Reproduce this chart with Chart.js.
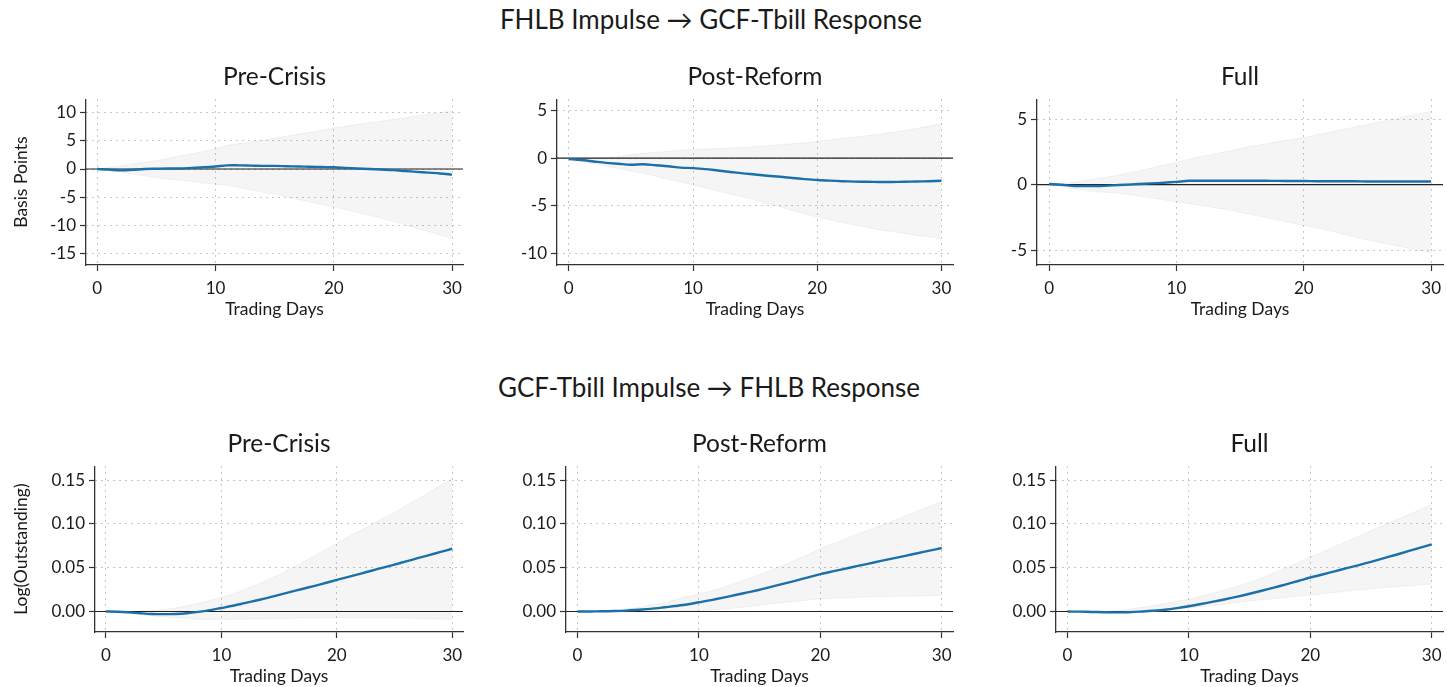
<!DOCTYPE html>
<html lang="en">
<head>
<meta charset="UTF-8">
<title>Impulse Responses</title>
<script src="https://cdn.jsdelivr.net/npm/chart.js"></script>
<style>
  body { margin: 0; background: #fff; width: 1447px; height: 687px; position: relative; overflow: hidden; font-family: Lato, sans-serif; color: #1a1a1a; }
  canvas { position: absolute; }
  .t { position: absolute; transform: translateX(-50%); white-space: nowrap; line-height: 1; }
  .sup { font-size: 26px; }
  .sub { font-size: 24.5px; }
</style>
</head>
<body>
<div class="t sup" style="left:711px; top:6px;">FHLB Impulse &rarr; GCF-Tbill Response</div>
<div class="t sup" style="left:709px; top:374px;">GCF-Tbill Impulse &rarr; FHLB Response</div>

<script>
// horizon (trading days) and ticks
const days = [0,1,2,3,4,5,6,7,8,9,10,11,12,13,14,15,16,17,18,19,20,21,22,23,24,25,26,27,28,29,30];
const xTicks = [0, 10, 20, 30];
const preTicksTop = [-15, -10, -5, 0, 5, 10];
const postTicksTop = [-10, -5, 0, 5];
const fullTicksTop = [-5, 0, 5];
const ticksBottom = [0, 0.05, 0.10, 0.15];

// FHLB impulse -> GCF-Tbill response (basis points)
const preTopIrf = [0,-0.1,-0.25,-0.15,0,0.05,0.1,0.1,0.2,0.3,0.45,0.65,0.65,0.6,0.55,0.55,0.5,0.45,0.4,0.35,0.3,0.2,0.1,0,-0.1,-0.2,-0.35,-0.5,-0.65,-0.8,-1.0];
const preTopHi  = [0,0.3,0.6,0.9,1.2,1.5,1.9,2.3,2.7,3.1,3.6,4.2,4.5,4.8,5.1,5.5,5.8,6.2,6.5,6.9,7.3,7.6,7.9,8.2,8.5,8.8,9.1,9.4,9.7,10.0,10.3];
const preTopLo  = [0,-0.3,-0.5,-0.9,-1.2,-1.5,-1.8,-2.0,-2.2,-2.5,-2.7,-2.9,-3.3,-3.7,-4.1,-4.5,-4.9,-5.4,-5.8,-6.3,-6.7,-7.2,-7.7,-8.2,-8.7,-9.3,-9.9,-10.5,-11.1,-11.7,-12.3];

const postTopIrf = [-0.1,-0.2,-0.35,-0.5,-0.6,-0.7,-0.65,-0.75,-0.85,-1.0,-1.05,-1.15,-1.3,-1.45,-1.6,-1.72,-1.85,-1.95,-2.08,-2.2,-2.3,-2.36,-2.42,-2.46,-2.48,-2.5,-2.5,-2.48,-2.45,-2.42,-2.38];
const postTopHi  = [-0.1,-0.05,0,0,0.15,0.35,0.5,0.6,0.7,0.8,0.9,0.95,1.0,1.05,1.1,1.2,1.3,1.4,1.5,1.6,1.75,1.9,2.05,2.2,2.35,2.5,2.7,2.9,3.1,3.35,3.6];
const postTopLo  = [-0.1,-0.35,-0.6,-0.85,-1.1,-1.35,-1.6,-1.9,-2.2,-2.5,-2.8,-3.15,-3.45,-3.75,-4.05,-4.4,-4.75,-5.1,-5.5,-5.85,-6.15,-6.45,-6.75,-7.0,-7.25,-7.5,-7.7,-7.9,-8.1,-8.25,-8.4];

const fullTopIrf = [0.05,0,-0.1,-0.1,-0.1,-0.05,0,0.05,0.1,0.15,0.22,0.3,0.3,0.3,0.3,0.3,0.3,0.3,0.29,0.28,0.28,0.27,0.27,0.26,0.26,0.25,0.25,0.25,0.25,0.25,0.25];
const fullTopHi  = [0.05,0.1,0.2,0.35,0.5,0.65,0.85,1.05,1.25,1.5,1.7,1.95,2.15,2.35,2.55,2.75,2.95,3.1,3.3,3.45,3.6,3.8,4.0,4.2,4.4,4.6,4.8,5.0,5.2,5.4,5.6];
const fullTopLo  = [0,-0.15,-0.3,-0.45,-0.55,-0.6,-0.7,-0.85,-1.0,-1.15,-1.3,-1.45,-1.6,-1.75,-1.9,-2.1,-2.3,-2.5,-2.7,-2.9,-3.1,-3.3,-3.5,-3.75,-4.0,-4.2,-4.4,-4.6,-4.8,-5.0,-5.2];

// GCF-Tbill impulse -> FHLB response (log outstanding)
const preBotIrf = [0,-0.0003,-0.001,-0.002,-0.0028,-0.003,-0.0028,-0.002,-0.0005,0.0015,0.004,0.0065,0.0095,0.0125,0.0155,0.019,0.0223,0.0257,0.029,0.0325,0.036,0.0395,0.043,0.0465,0.05,0.0535,0.0572,0.0608,0.0644,0.068,0.0716];
const preBotHi  = [0,0,0,0.0005,0.001,0.002,0.004,0.0065,0.009,0.0125,0.016,0.02,0.025,0.0305,0.036,0.042,0.049,0.056,0.063,0.0705,0.0777,0.085,0.092,0.099,0.106,0.113,0.121,0.128,0.136,0.144,0.152];
const preBotLo  = [0,-0.001,-0.0025,-0.004,-0.005,-0.006,-0.007,-0.008,-0.009,-0.009,-0.009,-0.009,-0.0088,-0.0085,-0.0082,-0.008,-0.0078,-0.0075,-0.0072,-0.007,-0.007,-0.007,-0.007,-0.007,-0.007,-0.0072,-0.0075,-0.008,-0.0083,-0.0087,-0.009];

const postBotIrf = [0,0,0.0002,0.0005,0.001,0.002,0.003,0.0045,0.0062,0.008,0.0105,0.013,0.0158,0.0188,0.0218,0.0248,0.0283,0.0318,0.0353,0.039,0.0426,0.0457,0.0487,0.0517,0.0547,0.0577,0.0606,0.0635,0.0665,0.0695,0.0724];
const postBotHi  = [0,0,0.0005,0.001,0.0025,0.0045,0.007,0.0095,0.013,0.0165,0.02,0.0235,0.0275,0.032,0.037,0.042,0.0475,0.053,0.059,0.065,0.0716,0.077,0.0825,0.088,0.093,0.098,0.1035,0.109,0.1145,0.12,0.1255];
const postBotLo  = [0,0,-0.0002,-0.0004,-0.0005,-0.0005,-0.0004,-0.0002,0.0002,0.0006,0.001,0.0018,0.0028,0.004,0.0055,0.0072,0.0088,0.0103,0.0118,0.0131,0.0143,0.015,0.0157,0.0162,0.0166,0.017,0.0173,0.0175,0.0177,0.0179,0.018];

const fullBotIrf = [0,-0.0002,-0.0005,-0.0008,-0.001,-0.0008,-0.0002,0.0008,0.002,0.0038,0.006,0.0085,0.0112,0.014,0.017,0.0202,0.0237,0.0272,0.031,0.0348,0.0388,0.0422,0.0458,0.0494,0.053,0.0567,0.0606,0.0645,0.0685,0.0725,0.0765];
const fullBotHi  = [0,0,0.0002,0.0005,0.001,0.0025,0.0045,0.0065,0.009,0.0115,0.0143,0.0175,0.021,0.0248,0.0288,0.033,0.0385,0.044,0.05,0.056,0.062,0.068,0.074,0.08,0.086,0.092,0.098,0.104,0.11,0.116,0.1225];
const fullBotLo  = [0,-0.0005,-0.001,-0.0018,-0.002,-0.0015,-0.0005,0,0.001,0.0025,0.004,0.0055,0.007,0.0088,0.0104,0.012,0.0134,0.0148,0.0162,0.0175,0.0188,0.0203,0.0218,0.0232,0.0246,0.026,0.0271,0.0282,0.0292,0.0302,0.0313];

Chart.defaults.font.family = 'Lato, sans-serif';
Chart.defaults.font.size = 17;
Chart.defaults.color = '#1a1a1a';

const lineColor = '#1b70a8';
const bandColor = 'rgba(0,0,0,0.04)';
const spineColor = '#333';

// horizontal reference line at zero
const zeroLine = {
  id: 'zeroLine',
  beforeDatasetsDraw(chart) {
    const y = chart.scales.y.getPixelForValue(0);
    const a = chart.chartArea;
    const c = chart.ctx;
    c.save();
    c.strokeStyle = '#222';
    c.lineWidth = 1.2;
    c.beginPath();
    c.moveTo(a.left, y);
    c.lineTo(a.right, y);
    c.stroke();
    c.restore();
  }
};

function pts(vals) {
  return days.map((d, i) => ({ x: d, y: vals[i] }));
}

const panels = [
  { title: 'Pre-Crisis',  area: {l: 86,   r: 463,  t: 97,  b: 265}, yMin: -17.05, yMax: 12.4, yt: preTicksTop,  irf: preTopIrf,  hi: preTopHi,  lo: preTopLo,  ylab: 'Basis Points', dec: 0 },
  { title: 'Post-Reform', area: {l: 557,  r: 953,  t: 97,  b: 265}, yMin: -11.2,  yMax: 6.17, yt: postTicksTop, irf: postTopIrf, hi: postTopHi, lo: postTopLo, ylab: '', dec: 0 },
  { title: 'Full',        area: {l: 1037, r: 1443, t: 97,  b: 265}, yMin: -6.13,  yMax: 6.53, yt: fullTicksTop, irf: fullTopIrf, hi: fullTopHi, lo: fullTopLo, ylab: '', dec: 0 },
  { title: 'Pre-Crisis',  area: {l: 95,   r: 463,  t: 464, b: 632}, yMin: -0.0234, yMax: 0.1658, yt: ticksBottom, irf: preBotIrf,  hi: preBotHi,  lo: preBotLo,  ylab: 'Log(Outstanding)', dec: 2 },
  { title: 'Post-Reform', area: {l: 566,  r: 953,  t: 464, b: 632}, yMin: -0.0234, yMax: 0.1658, yt: ticksBottom, irf: postBotIrf, hi: postBotHi, lo: postBotLo, ylab: '', dec: 2 },
  { title: 'Full',        area: {l: 1056, r: 1443, t: 464, b: 632}, yMin: -0.0234, yMax: 0.1658, yt: ticksBottom, irf: fullBotIrf, hi: fullBotHi, lo: fullBotLo, ylab: '', dec: 2 }
];

panels.forEach((p, k) => {
  const a = p.area;
  const yW = (k % 3 === 0) ? a.l : 80;
  const left = a.l - yW;
  const top = a.t - 12;
  const xH = 62;
  const cv = document.createElement('canvas');
  cv.width = a.r + 15 - left;
  cv.height = a.b + xH - top;
  cv.style.left = left + 'px';
  cv.style.top = top + 'px';
  document.body.appendChild(cv);

  const ttl = document.createElement('div');
  ttl.className = 't sub';
  ttl.textContent = p.title;
  ttl.style.left = ((a.l + a.r) / 2) + 'px';
  ttl.style.top = (a.t - 33) + 'px';
  document.body.appendChild(ttl);

  new Chart(cv, {
    type: 'line',
    data: {
      datasets: [
        { data: pts(p.irf), borderColor: lineColor, borderWidth: 2.4, pointRadius: 0, fill: false, tension: 0.3 },
        { data: pts(p.hi), borderColor: 'rgba(0,0,0,0.05)', borderWidth: 1, backgroundColor: bandColor, pointRadius: 0, fill: '+1', tension: 0.3 },
        { data: pts(p.lo), borderColor: 'rgba(0,0,0,0.05)', borderWidth: 1, pointRadius: 0, fill: false, tension: 0.3 }
      ]
    },
    options: {
      responsive: false,
      animation: false,
      layout: { padding: { top: 12, right: 15, left: 0, bottom: 0 } },
      plugins: { legend: { display: false }, tooltip: { enabled: false } },
      scales: {
        x: {
          type: 'linear', min: -0.95, max: 30.93,
          afterBuildTicks: s => { s.ticks = xTicks.map(v => ({ value: v })); },
          afterFit: s => { s.height = xH; },
          ticks: { autoSkip: false, maxRotation: 0, padding: 7, font: { size: 17 } },
          grid: { color: '#b5b5b5', lineWidth: 1, tickLength: 6, tickColor: spineColor, tickWidth: 1.2, tickBorderDash: [] },
          border: { display: true, color: spineColor, width: 1.3, dash: [1.5, 4.5] },
          title: { display: true, text: 'Trading Days', font: { size: 17.5 }, padding: { top: 0, bottom: 7.5 } }
        },
        y: {
          type: 'linear', min: p.yMin, max: p.yMax,
          afterBuildTicks: s => { s.ticks = p.yt.map(v => ({ value: v })); },
          afterFit: s => { s.width = yW; },
          ticks: { autoSkip: false, padding: 4, font: { size: 17 }, callback: v => v.toFixed(p.dec) },
          grid: { color: '#b5b5b5', lineWidth: 1, tickLength: 6, tickColor: spineColor, tickWidth: 1.2, tickBorderDash: [] },
          border: { display: true, color: spineColor, width: 1.3, dash: [1.5, 4.5] },
          title: { display: p.ylab !== '', text: p.ylab, font: { size: 17.5 }, padding: { top: 10.5, bottom: 0 } }
        }
      }
    },
    plugins: [zeroLine]
  });
});
</script>
</body>
</html>
